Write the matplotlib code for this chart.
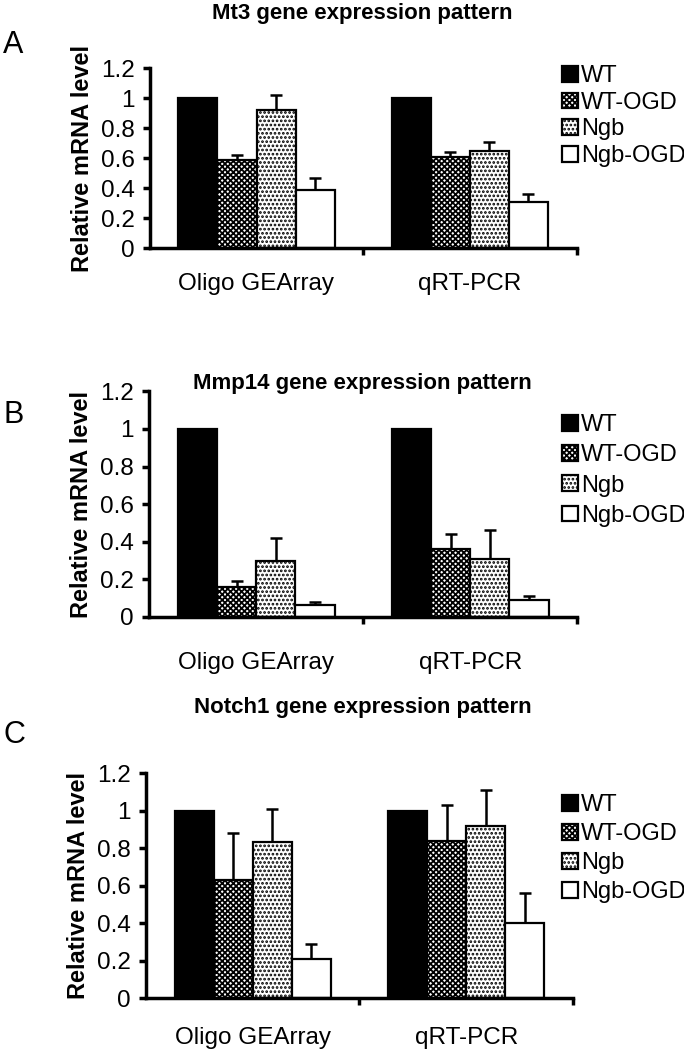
import numpy as np
import matplotlib
matplotlib.use("Agg")
from matplotlib import pyplot as plt

plt.rcParams['font.family'] = ['Liberation Sans', 'DejaVu Sans']
plt.rcParams['hatch.linewidth'] = 1.3

categories = ["Oligo GEArray", "qRT-PCR"]
series = ["WT", "WT-OGD", "Ngb", "Ngb-OGD"]

# rows = series (WT, WT-OGD, Ngb, Ngb-OGD), columns = categories
mt3_mean = [[1.0, 1.0], [0.59, 0.61], [0.92, 0.65], [0.39, 0.31]]
mt3_err = [[0, 0], [0.03, 0.03], [0.10, 0.06], [0.08, 0.05]]

mmp14_mean = [[1.0, 1.0], [0.16, 0.36], [0.30, 0.31], [0.065, 0.09]]
mmp14_err = [[0, 0], [0.03, 0.08], [0.12, 0.15], [0.015, 0.02]]

notch1_mean = [[1.0, 1.0], [0.63, 0.84], [0.83, 0.92], [0.21, 0.40]]
notch1_err = [[0, 0], [0.25, 0.19], [0.18, 0.19], [0.08, 0.16]]

yticks = [0, 0.2, 0.4, 0.6, 0.8, 1.0, 1.2]

faces = ['black', 'white', 'white', 'white']
hatches = [None, 'xxxxxx', '....', None]

fig = plt.figure(figsize=(6.84, 10.5), dpi=100)

def panel(rect, means, errs, title, letter, letter_y, title_y, leg_y, leg_sp,
          xpad):
    ax = fig.add_axes(rect)
    x = np.arange(len(categories))
    w = 0.183
    bars = []
    for i in range(len(series)):
        pos = x + (i - 1.5) * w
        b = ax.bar(pos, means[i], w, color=faces[i], edgecolor='black',
                   hatch=hatches[i], linewidth=1.6, label=series[i], zorder=2)
        bars.append(b)
        if i > 0:
            ax.errorbar(pos, means[i], yerr=[np.zeros(2), errs[i]], fmt='none',
                        ecolor='black', elinewidth=1.8, capsize=4.5,
                        capthick=1.8, zorder=1)
    ax.set_xlim(-0.5, 1.5)
    ax.set_ylim(0, 1.2)
    ax.set_yticks(yticks)
    ax.set_yticklabels([f'{v:g}' for v in yticks])
    ax.set_xticks(x)
    ax.set_xticklabels(categories)
    ax.set_xticks([0.5, 1.5], minor=True)
    ax.tick_params(axis='x', which='major', length=0, pad=xpad, labelsize=17.5)
    ax.tick_params(axis='x', which='minor', length=5, width=2.5, direction='out')
    ax.tick_params(axis='y', length=5, width=2.5, direction='out', pad=6,
                   labelsize=17.5)
    for s in ['top', 'right']:
        ax.spines[s].set_visible(False)
    for s in ['left', 'bottom']:
        ax.spines[s].set_linewidth(2.5)
    ax.set_ylabel("Relative mRNA level", fontsize=17, fontweight='bold',
                  labelpad=5)
    fig.text(0.53, title_y, title, fontsize=16, fontweight='bold',
             ha='center', va='center')
    fig.text(0.005, letter_y, letter, fontsize=22, ha='left', va='center')
    fig.legend(handles=bars, labels=series, loc='upper left',
               bbox_to_anchor=(0.822, leg_y), frameon=False, fontsize=17,
               handlelength=0.65, handleheight=0.65, handletextpad=0.15,
               labelspacing=leg_sp, borderpad=0, borderaxespad=0)
    return ax

panel([0.219, 0.7638, 0.624, 0.1714], mt3_mean, mt3_err,
      "Mt3 gene expression pattern", "A", 1 - 45 / 1050, 1 - 14 / 1050,
      1 - 65 / 1050, 0.2, 18)
panel([0.218, 0.4124, 0.626, 0.2149], mmp14_mean, mmp14_err,
      "Mmp14 gene expression pattern", "B", 1 - 415 / 1050, 1 - 384 / 1050,
      1 - 414 / 1050, 0.35, 25)
panel([0.2135, 0.0495, 0.624, 0.2143], notch1_mean, notch1_err,
      "Notch1 gene expression pattern", "C", 1 - 735 / 1050, 1 - 708 / 1050,
      1 - 794 / 1050, 0.3, 21)

fig.savefig("out.png", dpi=100)
